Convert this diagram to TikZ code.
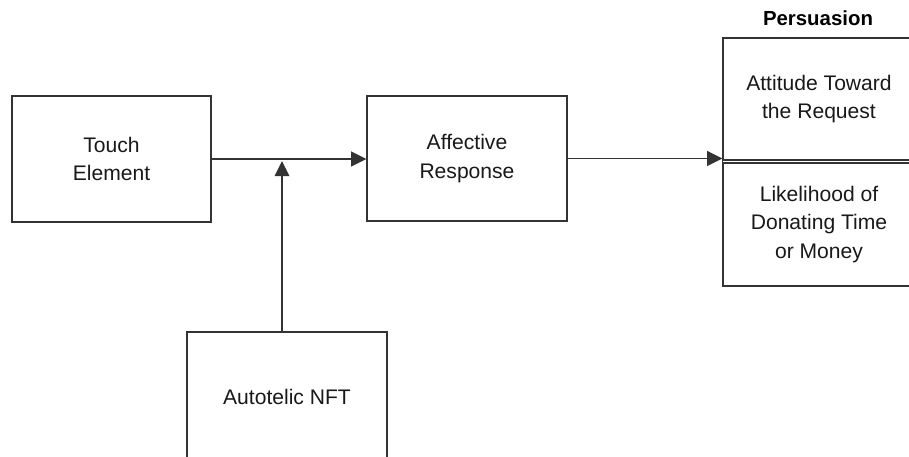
\documentclass[tikz,border=0pt]{standalone}
\usepackage{fontspec}
\setmainfont{Liberation Sans}
\usetikzlibrary{arrows.meta}

\begin{document}
\begin{tikzpicture}[x=0.025cm, y=-0.025cm, >={Triangle[length=0.38cm, width=0.37cm]},
    line width=0.9pt, draw=black!80,
    box/.style={draw, rectangle, inner sep=0pt, align=center, text=black!90,
        font=\fontsize{15}{20.5}\selectfont}]
    % 1. Frame of the picture (boxes run off the edges)
    \useasboundingbox (0,0) rectangle (909,457);
    \clip (0,0) rectangle (909,457);

    % 2. The boxes, placed at their centres
    \node[box, minimum width=199*0.025cm, minimum height=126*0.025cm] (touch) at (111.5,159) {Touch\\Element};
    \node[box, minimum width=200*0.025cm, minimum height=125*0.025cm] (affect) at (467,158.5) {Affective\\Response};
    \node[box, minimum width=200*0.025cm, minimum height=130*0.025cm] (nft) at (287,397) {Autotelic NFT};

    % 3. Persuasion block: two boxes split by a double line
    \node[box, minimum width=192*0.025cm, minimum height=122*0.025cm] (attitude) at (819,99) {Attitude Toward\\the Request};
    \node[box, minimum width=192*0.025cm, minimum height=123*0.025cm] (likely) at (819,224.5) {Likelihood of\\Donating Time\\or Money};
    \draw (attitude.south west) -- (likely.north west);
    \node[font=\fontsize{14.5}{17}\selectfont\bfseries, text=black] (persuasion) at (818,18) {Persuasion};

    % 4. Connectors
    \coordinate (mod) at (282,161);
    \draw[->] (touch.east) -- (touch.east -| affect.west);
    \draw[->] (nft.north -| mod) -- (mod);
    \draw[->] (affect.east) -- (affect.east -| attitude.west);
\end{tikzpicture}
\end{document}
